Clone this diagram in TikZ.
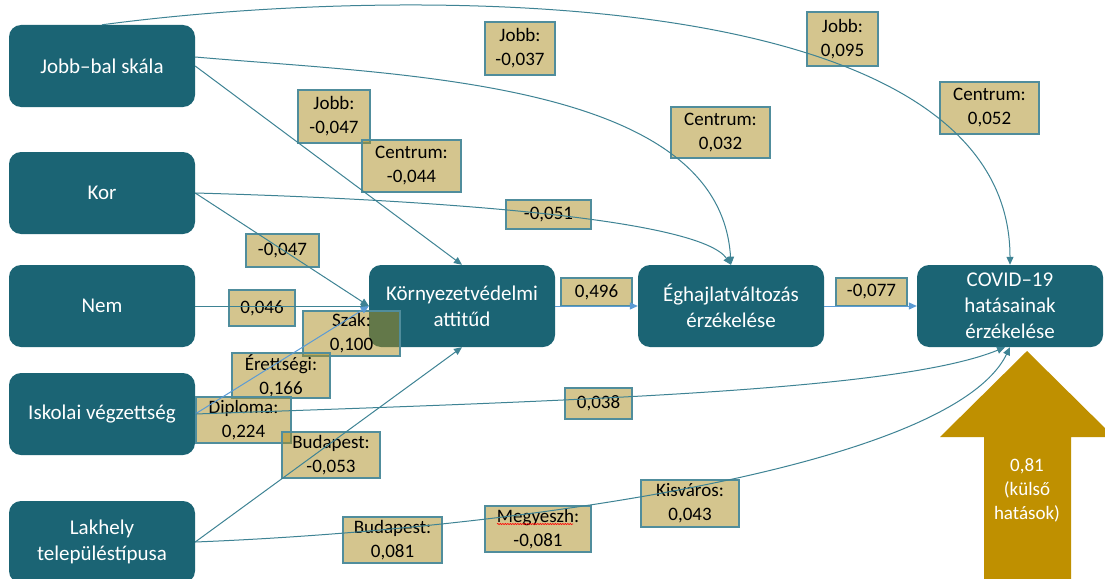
\documentclass[tikz,border=0pt]{standalone}
\usepackage{fontspec}
\setmainfont{Carlito}
\usepackage{xcolor}
\usepackage{tikz}
\usetikzlibrary{arrows.meta,decorations.pathmorphing}
\definecolor{boxteal}{RGB}{27,100,116}
\definecolor{lineteal}{RGB}{62,131,148}
\definecolor{lightblue}{RGB}{91,155,213}
\definecolor{labelgold}{RGB}{171,141,31}
\definecolor{labelrim}{RGB}{80,141,156}
\definecolor{arrowgold}{RGB}{191,144,0}
\tikzset{
    factor/.style={rectangle, rounded corners=12pt, fill=boxteal, text=white,
        minimum width=186pt, minimum height=82pt, inner sep=0pt, align=center,
        font=\fontsize{21}{26}\selectfont},
    coef/.style 2 args={rectangle, fill=labelgold, fill opacity=0.5, text opacity=1,
        draw=labelrim, line width=1.1pt, inner sep=0pt, align=center,
        minimum width=#1pt, minimum height=#2pt, font=\fontsize{19}{24}\selectfont},
    link/.style={draw=lineteal, line width=1pt, -{Triangle[length=8pt,width=7pt]}},
    flow/.style={draw=lightblue, line width=1pt, -{Triangle[length=8pt,width=7pt]}}
}

\begin{document}
\begin{tikzpicture}[x=1pt,y=-1pt]

    % Page frame
    \useasboundingbox (0,0) rectangle (1105,578);
    \clip (0,0) rectangle (1105,578);
    \fill[white] (0,0) rectangle (1105,578);

    % Explanatory variables on the left
    \node[factor] (jobbbal) at (102,66) {Jobb–bal skála};
    \node[factor] (kor) at (102,193) {Kor};
    \node[factor] (nem) at (102,306) {Nem};
    \node[factor] (iskolai) at (102,414) {Iskolai végzettség};
    \node[factor] (lakhely) at (102,542) {Lakhely\\településtípusa};

    % The chain of attitudes
    \node[factor] (korny) at (462,306) {Környezetvédelmi\\attitűd};
    \node[factor] (egh) at (731,306) {Éghajlatváltozás\\érzékelése};
    \node[factor] (covid) at (1010,306) {COVID–19\\hatásainak\\érzékelése};

    % Big arrow of the outside effects
    \fill[arrowgold] (1027,351) -- (1114,437) -- (1071,437) -- (1071,600)
        -- (984,600) -- (984,437) -- (940,437) -- cycle;
    \node[text=white, align=center, font=\fontsize{19}{24}\selectfont] (kulso)
        at (1027,490) {0,81\\(külső\\hatások)};

    % Coefficient boxes
    \node[coef={70}{53}] (jobb037) at (520,48.5) {Jobb:\\-0,037};
    \node[coef={72}{53}] (jobb047) at (334,116.5) {Jobb:\\-0,047};
    \node[coef={99}{52}] (centr044) at (411.5,166) {Centrum:\\-0,044};
    \node[coef={85}{29}] (kor051) at (548.5,214.5) {-0,051};
    \node[coef={73}{33}] (kor047) at (282.5,250.5) {-0,047};
    \node[coef={71}{54}] (jobb095) at (842.5,39) {Jobb:\\0,095};
    \node[coef={99}{52}] (centr052) at (989.5,108) {Centrum:\\0,052};
    \node[coef={99}{51}] (centr032) at (720.5,132.5) {Centrum:\\0,032};
    \node[coef={71}{28}] (att496) at (596.5,292) {0,496};
    \node[coef={71}{28}] (egh077) at (871.5,292) {-0,077};
    \node[coef={66}{36}] (nem046) at (262,308) {0,046};
    \node[coef={97}{45}] (szak) at (351.5,333.5) {Szak:\\0,100};
    \node[coef={98}{45}] (erett) at (281,375.5) {Érettségi:\\0,166};
    \node[coef={95}{46}] (diploma) at (243.5,420) {Diploma:\\0,224};
    \node[coef={98}{46}] (bud053) at (331,455) {Budapest:\\-0,053};
    \node[coef={99}{46}] (bud081) at (392.5,540) {Budapest:\\0,081};
    \node[coef={106}{46}] (megyesz) at (538,529) {Megyeszh:\\-0,081};
    \node[coef={67}{31}] (isk038) at (598.5,403.5) {0,038};
    \node[coef={98}{47}] (kisvaros) at (690,503.5) {Kisváros:\\0,043};

    % Spell check mark under Megyeszh
    \draw[red, line width=0.6pt, decorate, decoration={snake, amplitude=0.6pt, segment length=2.5pt}]
        ([xshift=-41pt,yshift=5pt]megyesz.center) -- ([xshift=35pt,yshift=5pt]megyesz.center);

    % Paths from the left side
    \draw[link] (jobbbal.north) .. controls (400,-15) and (1010,-20) .. (covid.north);
    \draw[link] ([yshift=9pt]jobbbal.east) .. controls (400,75) and (720,80) .. (egh.north);
    \draw[link] (jobbbal.east) -- (korny.north);
    \draw[link] (kor.east) .. controls (450,200) and (700,220) .. (egh.north);
    \draw[link] (kor.east) -- (korny.west);
    \draw[link] (nem.east) -- (korny.west);
    \draw[flow] (iskolai.east) -- (korny.west);
    \draw[link] (iskolai.east) .. controls (600,400) and (900,390) .. ([xshift=-5pt]covid.south);
    \draw[link] (lakhely.east) -- (korny.south);
    \draw[link] (lakhely.east) .. controls (500,530) and (950,470) .. (covid.south);

    % Paths along the chain
    \draw[flow] (korny.east) -- (egh.west);
    \draw[flow] (egh.east) -- (covid.west);

\end{tikzpicture}
\end{document}
